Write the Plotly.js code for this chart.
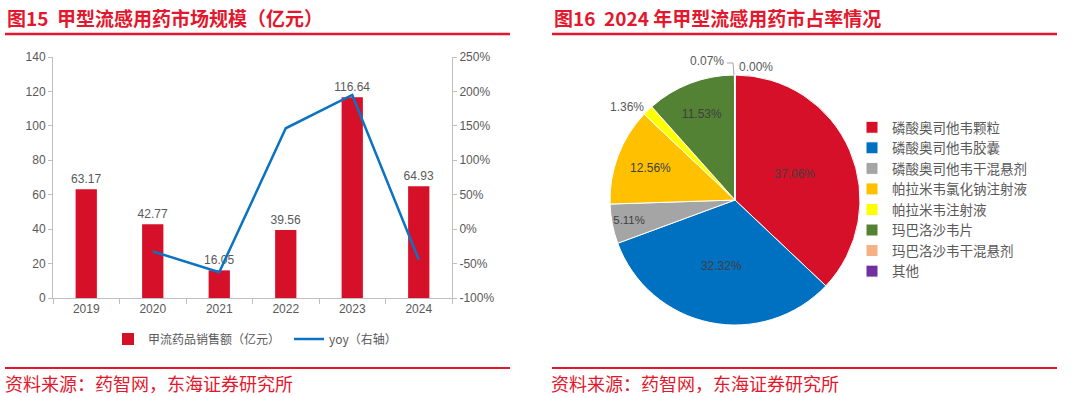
<!DOCTYPE html>
<html>
<head>
<meta charset="utf-8">
<script src="https://cdn.plot.ly/plotly-3.0.1.min.js"></script>
<style>html,body{margin:0;padding:0;background:#fff;}#chart{width:1080px;height:396px;}</style>
</head>
<body>
<div id="chart"></div>
<script>
// ---- Left chart data ----
const years = ['2019', '2020', '2021', '2022', '2023', '2024'];
const sales = [63.17, 42.77, 16.05, 39.56, 116.64, 64.93];
const yoyYears = ['2020', '2021', '2022', '2023', '2024'];
const yoy = [-32.29, -62.47, 146.48, 194.84, -44.33];
const leftTicks = [0, 20, 40, 60, 80, 100, 120, 140];
const rightTicks = [-100, -50, 0, 50, 100, 150, 200, 250];

// ---- Right chart data ----
const pieLabels = ['磷酸奥司他韦颗粒', '磷酸奥司他韦胶囊', '磷酸奥司他韦干混悬剂', '帕拉米韦氯化钠注射液', '帕拉米韦注射液', '玛巴洛沙韦片', '玛巴洛沙韦干混悬剂', '其他'];
const pieValues = [37.06, 32.32, 5.11, 12.56, 1.36, 11.53, 0.07, 0.00];
const pieColors = ['#D7102A', '#0070C0', '#A5A5A5', '#FFC000', '#FFFF00', '#548235', '#F4B183', '#7030A0'];

const RED = '#E3172D';
const GRAY = '#595959';
const AXIS = '#BFBFBF';
const FONT = 'Liberation Sans, Arial, Noto Sans CJK SC, sans-serif';
const CJK = 'Noto Sans CJK SC, sans-serif';

const traces = [
  {
    type: 'bar', x: years, y: sales, name: '甲流药品销售额（亿元）',
    marker: {color: '#D7102A'}, width: 0.32,
    text: sales.map(v => v.toFixed(2)), textposition: 'outside', cliponaxis: false, constraintext: 'none',
    textfont: {color: GRAY, size: 12, family: FONT},
    xaxis: 'x', yaxis: 'y', legend: 'legend'
  },
  {
    type: 'scatter', mode: 'lines', x: yoyYears, y: yoy, name: 'yoy（右轴）',
    line: {color: '#0C73C2', width: 2.5},
    xaxis: 'x', yaxis: 'y2', legend: 'legend'
  },
  {
    type: 'pie', labels: pieLabels, values: pieValues, sort: false, direction: 'clockwise', rotation: 0,
    marker: {colors: pieColors, line: {color: '#ffffff', width: 1}},
    texttemplate: '%{value:.2f}%',
    textposition: ['inside', 'inside', 'inside', 'inside', 'outside', 'inside', 'none', 'none'],
    insidetextorientation: 'horizontal',
    insidetextfont: {color: '#404040', size: 12, family: FONT},
    outsidetextfont: {color: GRAY, size: 12, family: FONT},
    domain: {x: [610/1080, 860/1080], y: [1-325/396, 1-75/396]},
    legend: 'legend2', hole: 0
  }
];

const layout = {
  width: 1080, height: 396,
  margin: {l: 0, r: 0, t: 0, b: 0},
  paper_bgcolor: '#fff', plot_bgcolor: '#fff',
  font: {family: FONT, color: GRAY, size: 12},
  xaxis: {
    type: 'category',
    domain: [53/1080, 452/1080], anchor: 'y',
    showline: true, linecolor: AXIS, linewidth: 1,
    ticks: 'outside', tickson: 'boundaries', ticklen: 5, tickcolor: AXIS,
    tickfont: {size: 12, color: GRAY, family: FONT}, showgrid: false
  },
  yaxis: {
    domain: [1-298/396, 1-57/396], anchor: 'x', range: [0, 140], tickvals: leftTicks,
    showline: true, linecolor: AXIS, linewidth: 1, ticks: 'outside', ticklen: 4, tickcolor: AXIS,
    showgrid: false, zeroline: false, tickfont: {size: 12, color: GRAY, family: FONT}
  },
  yaxis2: {
    domain: [1-298/396, 1-57/396], anchor: 'x', overlaying: 'y', side: 'right',
    range: [-100, 250], tickvals: rightTicks, ticktext: rightTicks.map(v => v + '%'),
    showline: true, linecolor: AXIS, linewidth: 1, ticks: 'outside', ticklen: 4, tickcolor: AXIS,
    showgrid: false, zeroline: false, tickfont: {size: 12, color: GRAY, family: FONT}
  },
  showlegend: true,
  legend: {
    orientation: 'h', x: 108/1080, xanchor: 'left', y: 1-339/396, yanchor: 'middle',
    entrywidth: 136,
    font: {size: 12, color: GRAY, family: CJK}, bgcolor: 'rgba(0,0,0,0)'
  },
  legend2: {
    orientation: 'v', x: 852/1080, xanchor: 'left', y: 1-112/396, yanchor: 'top',
    font: {size: 13.5, color: GRAY, family: CJK}, bgcolor: 'rgba(0,0,0,0)', traceorder: 'normal'
  },
  annotations: [
    {text: '<b>图15  甲型流感用药市场规模（亿元）</b>', xref: 'paper', yref: 'paper', x: 5/1080, y: 1-17/396,
     xanchor: 'left', yanchor: 'middle', showarrow: false, font: {family: CJK, size: 19, color: RED}},
    {text: '<b>图16  2024 年甲型流感用药市占率情况</b>', xref: 'paper', yref: 'paper', x: 552/1080, y: 1-17/396,
     xanchor: 'left', yanchor: 'middle', showarrow: false, font: {family: CJK, size: 19, color: RED}},
    {text: '资料来源：药智网，东海证券研究所', xref: 'paper', yref: 'paper', x: 3/1080, y: 1-383/396,
     xanchor: 'left', yanchor: 'middle', showarrow: false, font: {family: CJK, size: 18, color: RED}},
    {text: '资料来源：药智网，东海证券研究所', xref: 'paper', yref: 'paper', x: 549/1080, y: 1-383/396,
     xanchor: 'left', yanchor: 'middle', showarrow: false, font: {family: CJK, size: 18, color: RED}},
    // small-slice labels (text taken from the data)
    {text: pieValues[6].toFixed(2) + '%', xref: 'paper', yref: 'paper', x: 726/1080, y: 1-61/396,
     xanchor: 'right', yanchor: 'middle', showarrow: false, font: {family: FONT, size: 12, color: GRAY}},
    {text: pieValues[7].toFixed(2) + '%', xref: 'paper', yref: 'paper', x: 737/1080, y: 1-67/396,
     xanchor: 'left', yanchor: 'middle', showarrow: false, font: {family: FONT, size: 12, color: GRAY}}
  ],
  shapes: [
    {type: 'line', xref: 'paper', yref: 'paper', x0: 5/1080, x1: 510/1080, y0: 1-34/396, y1: 1-34/396, line: {color: RED, width: 2.5}},
    {type: 'line', xref: 'paper', yref: 'paper', x0: 552/1080, x1: 1057/1080, y0: 1-34/396, y1: 1-34/396, line: {color: RED, width: 2.5}},
    {type: 'line', xref: 'paper', yref: 'paper', x0: 5/1080, x1: 510/1080, y0: 1-368/396, y1: 1-368/396, line: {color: RED, width: 2}},
    {type: 'line', xref: 'paper', yref: 'paper', x0: 552/1080, x1: 1057/1080, y0: 1-368/396, y1: 1-368/396, line: {color: RED, width: 2}},
    // leader line for the 0.07% label
    {type: 'path', xref: 'paper', yref: 'paper',
     path: 'M ' + (727/1080) + ',' + (1-63/396) + ' L ' + (733/1080) + ',' + (1-63/396) + ' L ' + (734/1080) + ',' + (1-75/396),
     line: {color: '#A6A6A6', width: 1}}
  ]
};

Plotly.newPlot('chart', traces, layout, {displayModeBar: false, staticPlot: true});
</script>
</body>
</html>
